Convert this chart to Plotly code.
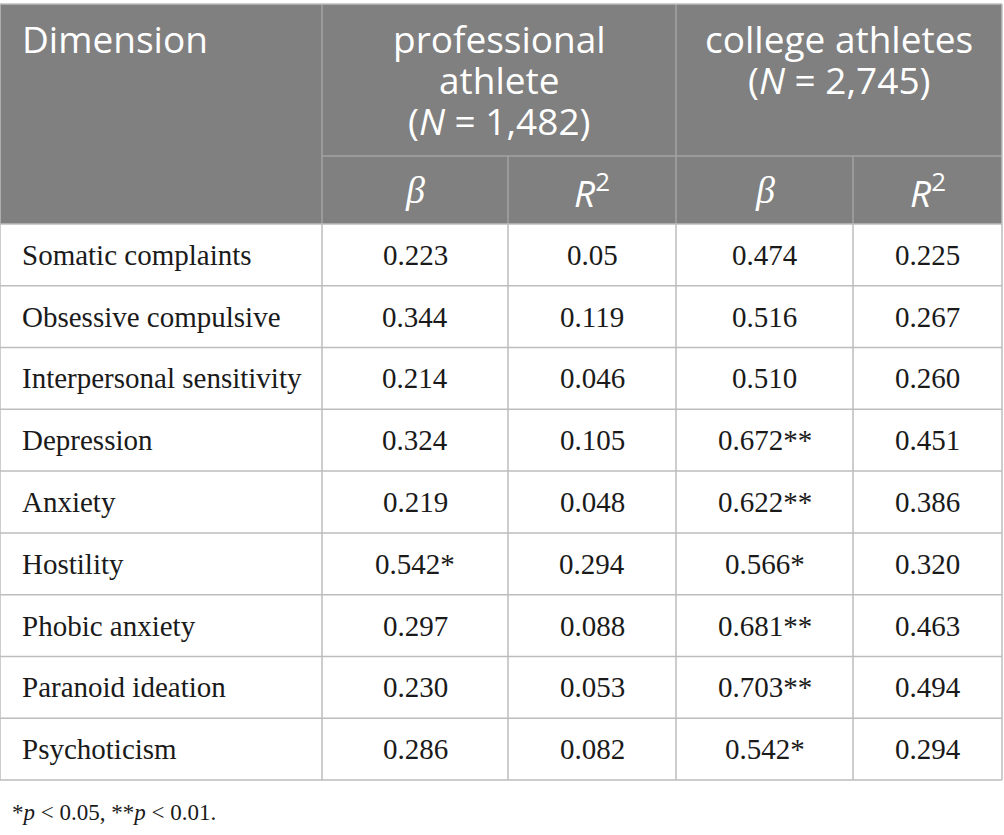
import plotly.graph_objects as go

# table contents
dimensions = [
    "Somatic complaints",
    "Obsessive compulsive",
    "Interpersonal sensitivity",
    "Depression",
    "Anxiety",
    "Hostility",
    "Phobic anxiety",
    "Paranoid ideation",
    "Psychoticism",
]
pro_beta = ["0.223", "0.344", "0.214", "0.324", "0.219", "0.542*", "0.297", "0.230", "0.286"]
pro_r2 = ["0.05", "0.119", "0.046", "0.105", "0.048", "0.294", "0.088", "0.053", "0.082"]
col_beta = ["0.474", "0.516", "0.510", "0.672**", "0.622**", "0.566*", "0.681**", "0.703**", "0.542*"]
col_r2 = ["0.225", "0.267", "0.260", "0.451", "0.386", "0.320", "0.463", "0.494", "0.294"]

first_header = "Dimension"
group_labels = [
    ["professional", "athlete", "(<i>N</i> = 1,482)"],
    ["college athletes", "(<i>N</i> = 2,745)"],
]
sub_labels = ["<i>β</i>", "<i>R</i><sup>2</sup>", "<i>β</i>", "<i>R</i><sup>2</sup>"]
footnote = "*<i>p</i> < 0.05, **<i>p</i> < 0.01."

# geometry (pixels)
W, H = 1004, 835
col_edges = [0, 322, 508, 676, 853, 1002]
top = 4
head1 = 156
head2 = 224
row_h = (780 - head2) / len(dimensions)
line_spacing = 41

hdr_fill = "#808080"
hdr_line = "#a3a3a3"
grid = "#bdbdbd"
sans = "Open Sans"
serif = "Liberation Serif"

columns = [pro_beta, pro_r2, col_beta, col_r2]
bottom = head2 + row_h * len(dimensions)

fig = go.Figure()
shapes = []
annotations = []

# header background
shapes.append(dict(type="rect", x0=col_edges[0], x1=col_edges[-1], y0=top, y1=head2,
                   fillcolor=hdr_fill, line=dict(width=0), layer="below"))

# header lines
for i, x in enumerate(col_edges):
    if i in (0, len(col_edges) - 1):
        continue
    y0 = top if i in (1, 3) else head1
    shapes.append(dict(type="line", x0=x, x1=x, y0=y0, y1=head2,
                       line=dict(color=hdr_line, width=1.5)))
shapes.append(dict(type="line", x0=col_edges[1], x1=col_edges[-1], y0=head1, y1=head1,
                   line=dict(color=hdr_line, width=1.5)))
shapes.append(dict(type="line", x0=col_edges[0], x1=col_edges[-1], y0=top, y1=top,
                   line=dict(color=grid, width=1.5)))

# body grid
for r in range(len(dimensions) + 1):
    y = head2 + r * row_h
    shapes.append(dict(type="line", x0=col_edges[0], x1=col_edges[-1], y0=y, y1=y,
                       line=dict(color=grid, width=1.5)))
for x in col_edges:
    shapes.append(dict(type="line", x0=x, x1=x, y0=head2, y1=bottom,
                       line=dict(color=grid, width=1.5)))
for x in (col_edges[0], col_edges[-1]):
    shapes.append(dict(type="line", x0=x, x1=x, y0=top, y1=head2,
                       line=dict(color=grid, width=1.5)))

# header text
annotations.append(dict(x=col_edges[0] + 20, y=38, text=first_header, xanchor="left",
                        yanchor="middle", showarrow=False,
                        font=dict(family=sans, size=37, color="white")))
spans = [(col_edges[1], col_edges[3]), (col_edges[3], col_edges[5])]
for (x0, x1), lines in zip(spans, group_labels):
    for k, txt in enumerate(lines):
        annotations.append(dict(x=(x0 + x1) / 2, y=38 + k * line_spacing, text=txt,
                                xanchor="center", yanchor="middle", showarrow=False,
                                font=dict(family=sans, size=37, color="white")))
for j, txt in enumerate(sub_labels):
    xc = (col_edges[j + 1] + col_edges[j + 2]) / 2
    fam = serif if "β" in txt else sans
    sz = 38 if "β" in txt else 37
    annotations.append(dict(x=xc, y=(head1 + head2) / 2, text=txt, xanchor="center",
                            yanchor="middle", showarrow=False,
                            font=dict(family=fam, size=sz, color="white")))

# body text
for r, name in enumerate(dimensions):
    yc = head2 + (r + 0.5) * row_h
    annotations.append(dict(x=col_edges[0] + 20, y=yc, text=name, xanchor="left",
                            yanchor="middle", showarrow=False,
                            font=dict(family=serif, size=29, color="#1a1a1a")))
    for j, col in enumerate(columns):
        xc = (col_edges[j + 1] + col_edges[j + 2]) / 2
        annotations.append(dict(x=xc, y=yc, text=col[r], xanchor="center",
                                yanchor="middle", showarrow=False,
                                font=dict(family=serif, size=29, color="#1a1a1a")))

annotations.append(dict(x=col_edges[0] + 10, y=812, text=footnote, xanchor="left",
                        yanchor="middle", showarrow=False,
                        font=dict(family=serif, size=23, color="#1a1a1a")))

fig.update_layout(
    width=W, height=H,
    margin=dict(l=0, r=0, t=0, b=0),
    paper_bgcolor="white", plot_bgcolor="white",
    xaxis=dict(range=[0, W], visible=False, fixedrange=True),
    yaxis=dict(range=[H, 0], visible=False, fixedrange=True),
    shapes=shapes,
    annotations=annotations,
    showlegend=False,
)

# drop the page's default body margin so the table sits at the window corner
fig.write_html("out.html", config={"displayModeBar": False},
               post_script="document.body.style.margin='0';")
